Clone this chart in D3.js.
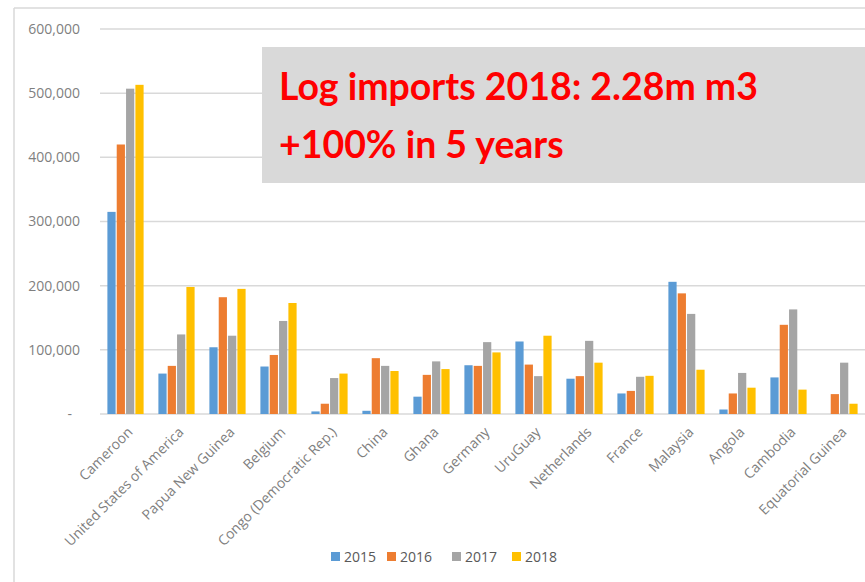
<!DOCTYPE html>
<html><head><meta charset="utf-8">
<script src="https://cdn.jsdelivr.net/npm/d3@7"></script>
<style>body{margin:0;background:#fff;} svg{display:block;}</style>
</head><body>
<svg id="c" width="865" height="582"></svg>
<script>
const categories = ["Cameroon","United States of America","Papua New Guinea","Belgium","Congo (Democratic Rep.)","China","Ghana","Germany","UruGuay","Netherlands","France","Malaysia","Angola","Cambodia","Equatorial Guinea"];
const years = ["2015","2016","2017","2018"];
const v2015 = [315000, 63000, 104000, 74000, 4000, 5000, 27000, 76000, 113000, 55000, 32000, 206000, 7000, 57000, 0];
const v2016 = [420000, 75000, 182000, 92000, 16000, 87000, 61000, 75000, 77000, 59000, 36000, 188000, 32000, 139000, 31000];
const v2017 = [507000, 124000, 122000, 145000, 56000, 75000, 82000, 112000, 59000, 114000, 58000, 156000, 64000, 163000, 80000];
const v2018 = [513000, 198000, 195000, 173000, 63000, 67000, 70000, 96000, 122000, 80000, 59500, 69000, 41000, 38000, 16000];
const yTicks = [0, 100000, 200000, 300000, 400000, 500000, 600000];
const colors = ["#5b9bd5", "#ed7d31", "#a5a5a5", "#ffc000"];
const annotation = ["Log imports 2018: 2.28m m3", "+100% in 5 years"];

const series = [v2015, v2016, v2017, v2018];
const svg = d3.select("#c");
const font = "'Open Sans', 'Liberation Sans', sans-serif";

// chart frame
svg.append("line").attr("x1",14).attr("x2",14).attr("y1",8).attr("y2",582).attr("stroke","#d9d9d9").attr("stroke-width",1.5);
svg.append("line").attr("x1",14).attr("x2",865).attr("y1",8).attr("y2",8).attr("stroke","#d9d9d9").attr("stroke-width",1.5);

const x0 = d3.scaleBand().domain(categories).range([100, 865]).paddingInner(0.29).paddingOuter(0.145);
const x1 = d3.scaleBand().domain(years).range([0, x0.bandwidth()]).paddingInner(0.12);
const y = d3.scaleLinear().domain([0, 600000]).range([414, 29]);

// gridlines
svg.append("g").selectAll("line").data(yTicks).join("line")
  .attr("x1", 100).attr("x2", 865)
  .attr("y1", d => y(d)).attr("y2", d => y(d))
  .attr("stroke", "#d9d9d9").attr("stroke-width", 1.5);

// y axis labels
const yAxis = d3.axisLeft(y).tickValues(yTicks).tickSize(0).tickPadding(0)
  .tickFormat(d => d === 0 ? "-" : d3.format(",")(d));
const gy = svg.append("g").attr("transform", "translate(80,0)").call(yAxis);
gy.select(".domain").remove();
gy.selectAll("text").attr("font-family", font).attr("font-size", 14).attr("fill", "#7f7f7f")
  .attr("dx", d => d === 0 ? -8 : 0);

// bars
const groups = svg.append("g").selectAll("g").data(categories).join("g")
  .attr("transform", d => `translate(${x0(d)},0)`);
groups.selectAll("rect").data((d, i) => years.map((yr, j) => ({yr, v: series[j][i], j})))
  .join("rect")
  .attr("x", d => x1(d.yr)).attr("width", x1.bandwidth())
  .attr("y", d => y(d.v)).attr("height", d => y(0) - y(d.v))
  .attr("fill", d => colors[d.j]);

// x labels
const xAxis = d3.axisBottom(x0).tickSize(0).tickPadding(0);
const gx = svg.append("g").attr("transform", "translate(0,414)").call(xAxis);
gx.select(".domain").remove();
gx.selectAll("text").attr("font-family", font).attr("font-size", 14).attr("fill", "#7f7f7f")
  .attr("text-anchor", "end").attr("dy", 0).attr("y", 0)
  .attr("transform", "translate(8,19) rotate(-45)");

// legend
const legX = [331, 387, 452, 512];
const leg = svg.append("g").selectAll("g").data(years).join("g")
  .attr("transform", (d, i) => `translate(${legX[i]},552)`);
leg.append("rect").attr("width", 9).attr("height", 9).attr("fill", (d, i) => colors[i]);
leg.append("text").attr("x", 13).attr("y", 9.5).text(d => d)
  .attr("font-family", font).attr("font-size", 14).attr("fill", "#595959");

// annotation box
svg.append("rect").attr("x", 262).attr("y", 47).attr("width", 603).attr("height", 136).attr("fill", "#d9d9d9");
const ann = svg.append("g").selectAll("text").data(annotation).join("text")
  .attr("x", 279).attr("y", (d, i) => i === 0 ? 100 : 158)
  .attr("font-family", "Lato, 'Open Sans', sans-serif").attr("font-weight", "bold")
  .attr("font-size", 40).attr("fill", "#ff0000").text(d => d);
const w0 = ann.nodes()[0].getComputedTextLength();
const fs = 40 * 479 / w0;
ann.attr("font-size", fs);
</script>
</body></html>
